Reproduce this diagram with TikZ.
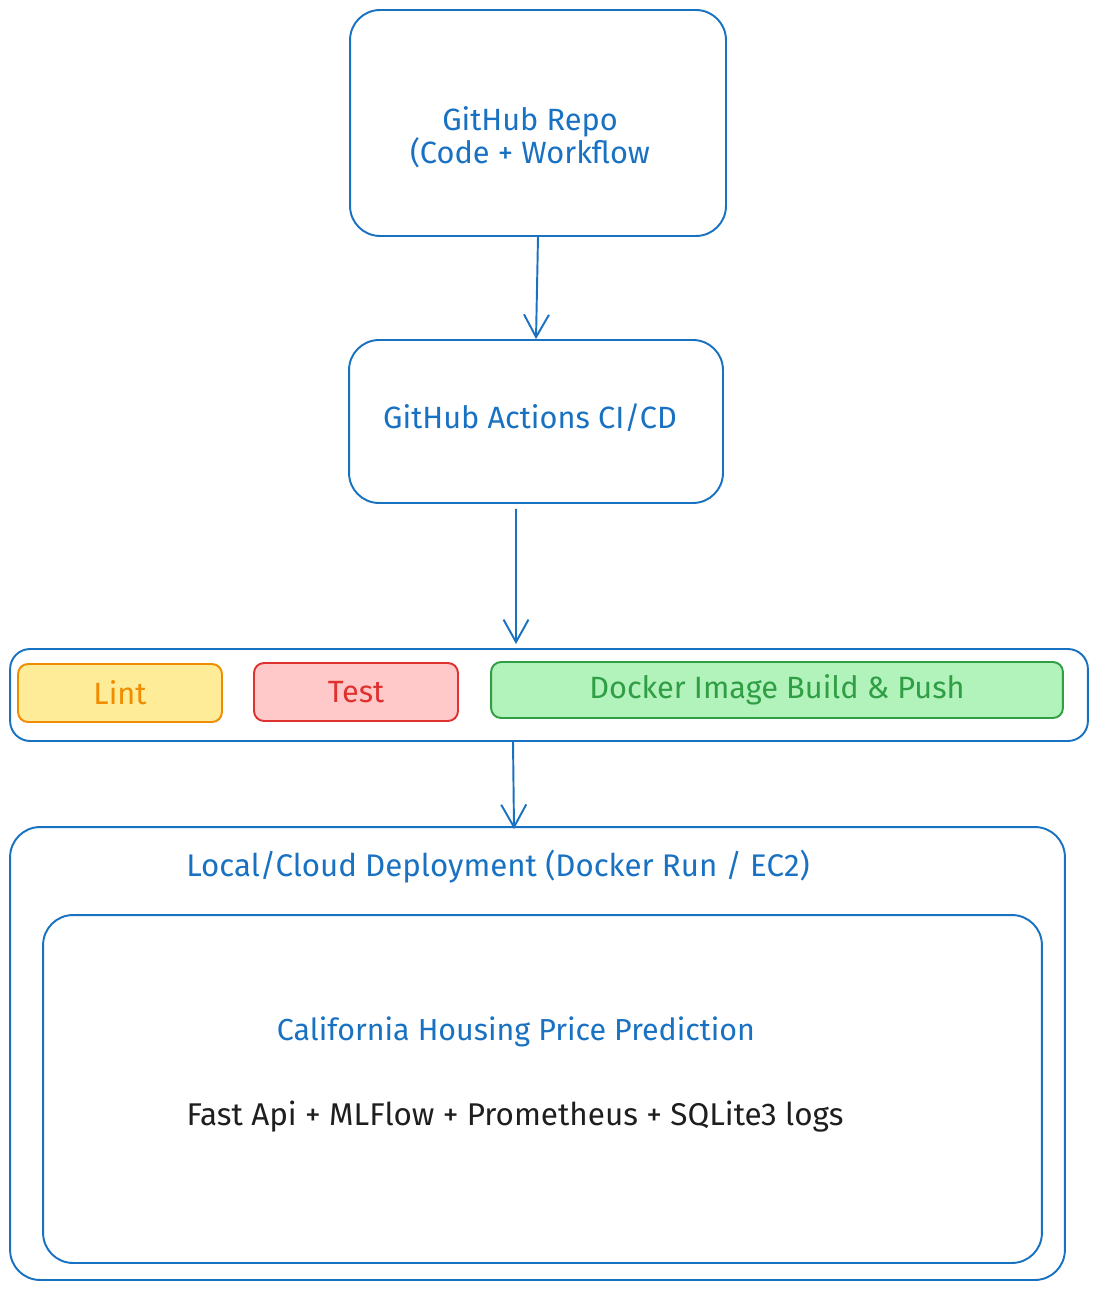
\documentclass[tikz,border=0pt]{standalone}
\usepackage{fontspec}
\setmainfont{Fira Sans}
\usepackage{tikz}
\usetikzlibrary{arrows.meta, positioning}
\definecolor{flowblue}{HTML}{1971C2}
\definecolor{lintstroke}{HTML}{F08C00}
\definecolor{lintfill}{HTML}{FFEC99}
\definecolor{teststroke}{HTML}{E03131}
\definecolor{testfill}{HTML}{FFC9C9}
\definecolor{dockerstroke}{HTML}{2F9E44}
\definecolor{dockerfill}{HTML}{B2F2BB}
\definecolor{inkblack}{HTML}{1E1E1E}
\tikzset{
    bigbox/.style={rectangle, draw=flowblue, line width=1.1pt, rounded corners=0.6cm, align=center, text=flowblue, font=\fontsize{17.5}{19}\selectfont},
    framebox/.style={rectangle, draw=flowblue, line width=1.1pt, rounded corners=0.4cm},
    stagebox/.style={rectangle, line width=1.1pt, rounded corners=0.2cm, minimum height=1.16cm, align=center, font=\fontsize{17.5}{19}\selectfont},
    caption/.style={align=center, text=flowblue, font=\fontsize{17.3}{19}\selectfont},
    arrow/.style={-{Straight Barb[length=0.45cm, width=0.5cm]}, flowblue, line width=1.1pt}
}
\begin{document}
\begin{tikzpicture}[x=0.02cm, y=-0.02cm, node distance=1.5cm]
    \useasboundingbox (0,0) rectangle (1098,1290);
    % Repository (top)
    \node[bigbox, minimum width=7.52cm, minimum height=4.52cm] (repo_box) at (538,123) {};
    \node[caption, font=\fontsize{17.5}{19}\selectfont] (repo_text) at (530,137) {GitHub Repo\\(Code + Workflow};
    % CI/CD runner
    \node[bigbox, minimum width=7.48cm, minimum height=3.26cm] (actions_box) at (536,421.5) {};
    \node[caption, font=\fontsize{17.5}{19}\selectfont] (actions_text) at (530,418) {GitHub Actions CI/CD};
    % Pipeline stages (frame and three steps)
    \node[framebox, minimum width=21.56cm, minimum height=1.84cm] (pipeline_box) at (549,695) {};
    \node[stagebox, draw=lintstroke, fill=lintfill, text=lintstroke, minimum width=4.08cm] (lint_box) at (120,693) {Lint};
    \node[stagebox, draw=teststroke, fill=testfill, text=teststroke, minimum width=4.08cm] (test_box) at (356,692) {Test};
    \node[stagebox, draw=dockerstroke, fill=dockerfill, text=dockerstroke, minimum width=11.44cm, minimum height=1.12cm] (docker_box) at (777,690) {Docker Image Build \& Push};
    % Deployment (bottom)
    \node[framebox, rounded corners=0.6cm, minimum width=21.1cm, minimum height=9.06cm] (deploy_box) at (537.5,1053.5) {};
    \node[caption, font=\fontsize{17.8}{19}\selectfont] (deploy_title) at (498,867) {Local/Cloud Deployment (Docker Run / EC2)};
    \node[framebox, rounded corners=0.6cm, minimum width=19.98cm, minimum height=6.96cm] (app_box) at (542.5,1089) {};
    \node[caption] (app_title) at (516,1032) {California Housing Price Prediction};
    \node[caption, text=inkblack, font=\fontsize{17.9}{19}\selectfont] (app_stack) at (515,1117) {Fast Api + MLFlow + Prometheus + SQLite3 logs};
    % Connectors
    \draw[arrow] (repo_box.south) -- (actions_box.north);
    \draw[arrow] ([xshift=-0.4cm, yshift=-0.1cm]actions_box.south) -- ([xshift=-0.66cm, yshift=0.08cm]pipeline_box.north);
    \draw[arrow] ([xshift=-0.72cm]pipeline_box.south) -- ([xshift=-0.47cm, yshift=-0.06cm]deploy_box.north);
\end{tikzpicture}
\end{document}
